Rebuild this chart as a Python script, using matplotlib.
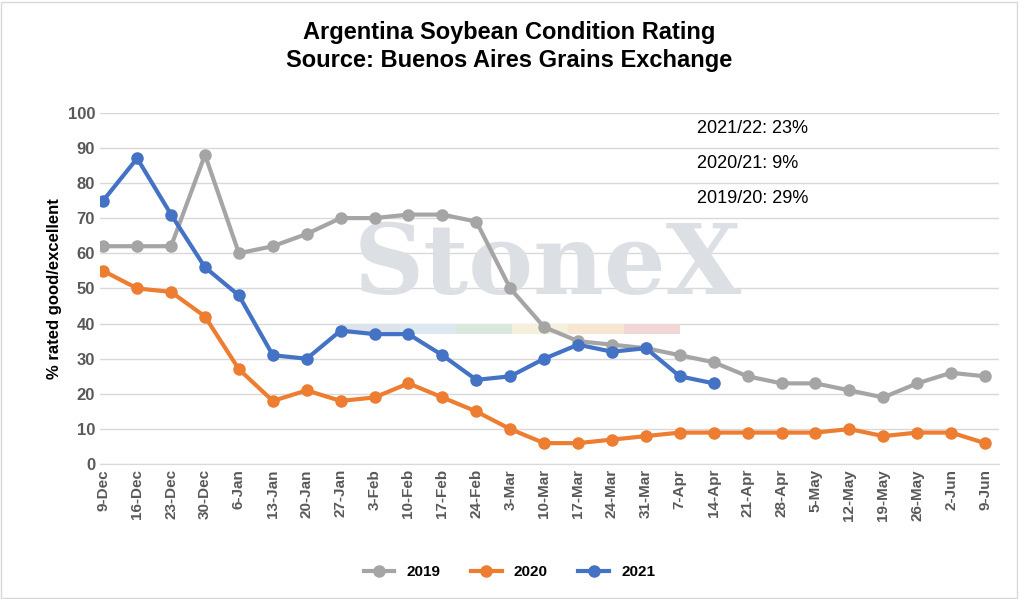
import matplotlib.pyplot as plt
import matplotlib.patches as mpatches

dates = ['9-Dec', '16-Dec', '23-Dec', '30-Dec', '6-Jan', '13-Jan', '20-Jan', '27-Jan', '3-Feb',
         '10-Feb', '17-Feb', '24-Feb', '3-Mar', '10-Mar', '17-Mar', '24-Mar', '31-Mar', '7-Apr',
         '14-Apr', '21-Apr', '28-Apr', '5-May', '12-May', '19-May', '26-May', '2-Jun', '9-Jun']
s2019 = [62, 62, 62, 88, 60, 62, 65.5, 70, 70, 71, 71, 69, 50, 39, 35, 34, 33, 31, 29, 25, 23, 23, 21, 19, 23, 26, 25]
s2020 = [55, 50, 49, 42, 27, 18, 21, 18, 19, 23, 19, 15, 10, 6, 6, 7, 8, 9, 9, 9, 9, 9, 10, 8, 9, 9, 6]
s2021 = [75, 87, 71, 56, 48, 31, 30, 38, 37, 37, 31, 24, 25, 30, 34, 32, 33, 25, 23]
notes = ['2021/22: 23%', '2020/21: 9%', '2019/20: 29%']

plt.rcParams['font.family'] = ['Liberation Sans', 'DejaVu Sans']
fig = plt.figure(figsize=(10.19, 5.99), dpi=100)
ax = fig.add_axes([0.098, 0.225, 0.882, 0.587])

x = range(len(dates))
ax.plot(x, s2019, '-o', color='#a5a5a5', lw=3, ms=8, label='2019', zorder=3)
ax.plot(x[:len(s2020)], s2020, '-o', color='#ed7d31', lw=3, ms=8, label='2020', zorder=3)
ax.plot(x[:len(s2021)], s2021, '-o', color='#4472c4', lw=3, ms=8, label='2021', zorder=4)

# watermark
ax.text(13.1, 56, 'StoneX', fontsize=70, family='DejaVu Serif', fontweight='bold',
        color='#dce0e5', ha='center', va='center', zorder=1)
wm_cols = ['#dde3ea', '#dbe8ef', '#d9e8dc', '#f5f0dc', '#f6e6d2', '#f2d7d7']
for i, c in enumerate(wm_cols):
    ax.add_patch(mpatches.Rectangle((7.1 + i * 1.65, 37), 1.65, 3, color=c, zorder=1, lw=0))

ax.set_xlim(-0.1, len(dates) - 0.6)
ax.set_ylim(0, 100)
ax.set_yticks(range(0, 101, 10))
ax.set_xticks(list(x))
ax.set_xticklabels(dates, rotation=90, fontsize=11, fontweight='bold', color='#595959')
ax.tick_params(axis='y', labelsize=12, labelcolor='#595959', length=0)
for t in ax.get_yticklabels():
    t.set_fontweight('bold')
ax.tick_params(axis='x', length=0)
ax.grid(axis='y', color='#d9d9d9', lw=1)
ax.set_axisbelow(True)
for sp in ['top', 'right', 'left']:
    ax.spines[sp].set_visible(False)
ax.spines['bottom'].set_color('#d9d9d9')
ax.set_ylabel('% rated good/excellent', fontsize=12, fontweight='bold')

for i, n in enumerate(notes):
    ax.text(17.5, 95.5 - i * 10, n, fontsize=13, va='center')

fig.suptitle('Argentina Soybean Condition Rating\nSource: Buenos Aires Grains Exchange',
             y=0.965, fontsize=17, fontweight='bold', linespacing=1.3)
fig.legend(loc='lower center', bbox_to_anchor=(0.5, 0.01), ncol=3, frameon=False,
           prop={'weight': 'bold', 'size': 11})
fig.add_artist(mpatches.Rectangle((0.001, 0.002), 0.997, 0.995, transform=fig.transFigure,
                                  fill=False, ec='#d9d9d9', lw=1))
fig.savefig('out.png', dpi=100)
